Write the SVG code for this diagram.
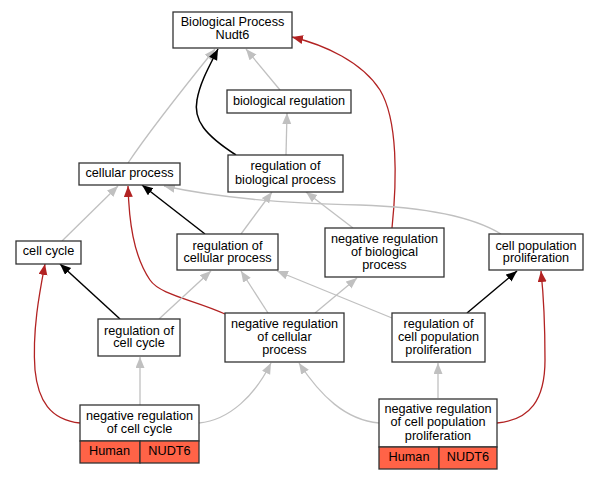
<svg xmlns="http://www.w3.org/2000/svg" width="599" height="480" viewBox="0 0 599 480">
<style>
.n rect{fill:#fff;stroke:#333;stroke-width:1.3}
.n rect.h{fill:#ff6347}
text{font-family:"Liberation Sans",Arial,sans-serif;font-size:12.7px;fill:#000;text-anchor:middle}
.e path{fill:none}
.g{stroke:#c0c0c0;stroke-width:1.3}
.k{stroke:#000;stroke-width:1.5}
.r{stroke:#b22222;stroke-width:1.3}
</style>
<defs>
<marker id="ag" markerUnits="userSpaceOnUse" markerWidth="12" markerHeight="10" refX="11" refY="4.5" orient="auto"><path d="M0,0 L11,4.5 L0,9 z" fill="#c0c0c0"/></marker>
<marker id="ak" markerUnits="userSpaceOnUse" markerWidth="12" markerHeight="10" refX="11" refY="4.5" orient="auto"><path d="M0,0 L11,4.5 L0,9 z" fill="#000"/></marker>
<marker id="ar" markerUnits="userSpaceOnUse" markerWidth="12" markerHeight="10" refX="11" refY="4.5" orient="auto"><path d="M0,0 L11,4.5 L0,9 z" fill="#b22222"/></marker>
</defs>
<g id="edges" class="e">
<path class="g" d="M128,163 C150,130 190,80 215,49" marker-end="url(#ag)"/>
<path class="k" d="M236,155 C205,135 193,120 197,100 C200,82 210,65 218,49" marker-end="url(#ak)"/>
<path class="g" d="M280,90 L246,49" marker-end="url(#ag)"/>
<path class="r" d="M392,228 C397,180 398,120 380,90 C362,62 325,45 292,37" marker-end="url(#ar)"/>
<path class="g" d="M286,155 L287,113" marker-end="url(#ag)"/>
<path class="g" d="M62,241 L118,186" marker-end="url(#ag)"/>
<path class="k" d="M205,234 L142,185" marker-end="url(#ak)"/>
<path class="r" d="M225,314 C195,300 160,295 150,280 C133,255 129,220 128,186" marker-end="url(#ar)"/>
<path class="g" d="M501,234 C470,215 420,207 360,205 C280,203 220,198 164,186" marker-end="url(#ag)"/>
<path class="g" d="M241,234 L272,192" marker-end="url(#ag)"/>
<path class="g" d="M353,228 L306,192" marker-end="url(#ag)"/>
<path class="g" d="M315,313 L357,278" marker-end="url(#ag)"/>
<path class="k" d="M120,319 L60,264" marker-end="url(#ak)"/>
<path class="r" d="M80,423 C50,420 38,400 35,370 C32,330 40,290 45,264" marker-end="url(#ar)"/>
<path class="g" d="M159,319 L211,271" marker-end="url(#ag)"/>
<path class="g" d="M268,313 L241,271" marker-end="url(#ag)"/>
<path class="g" d="M392,318 L277,271" marker-end="url(#ag)"/>
<path class="k" d="M467,313 L517,271" marker-end="url(#ak)"/>
<path class="g" d="M140,405 L140,357" marker-end="url(#ag)"/>
<path class="g" d="M199,423 C230,420 255,395 271,363" marker-end="url(#ag)"/>
<path class="g" d="M379,423 C345,420 320,395 299,363" marker-end="url(#ag)"/>
<path class="g" d="M438,398 L438,363" marker-end="url(#ag)"/>
<path class="r" d="M497,423 C530,420 545,400 545,360 C545,320 543,290 541,271" marker-end="url(#ar)"/>
</g>
<g id="bp" class="n"><rect x="173" y="12" width="119" height="36"/><text x="232.5" y="26.2">Biological Process</text><text x="232.5" y="39">Nudt6</text></g>
<g id="bioreg" class="n"><rect x="227" y="90" width="124" height="23"/><text x="289" y="104.5">biological regulation</text></g>
<g id="regbio" class="n"><rect x="228" y="155" width="115" height="37"/><text x="285.5" y="170.2">regulation of</text><text x="285.5" y="183.5">biological process</text></g>
<g id="cellproc" class="n"><rect x="79" y="163" width="101" height="22"/><text x="129.5" y="177">cellular process</text></g>
<g id="cellcycle" class="n"><rect x="16" y="241" width="65" height="23"/><text x="48.5" y="255">cell cycle</text></g>
<g id="regcell" class="n"><rect x="177" y="234" width="101" height="36"/><text x="227.5" y="249.5">regulation of</text><text x="227.5" y="262.2">cellular process</text></g>
<g id="negregbio" class="n"><rect x="325" y="228" width="119" height="49"/><text x="384.5" y="243">negative regulation</text><text x="384.5" y="256">of biological</text><text x="384.5" y="269">process</text></g>
<g id="cellpop" class="n"><rect x="489" y="234" width="94" height="36"/><text x="536" y="249.5">cell population</text><text x="536" y="262.2">proliferation</text></g>
<g id="regcc" class="n"><rect x="98" y="319" width="82" height="37"/><text x="139" y="334.5">regulation of</text><text x="139" y="347.2">cell cycle</text></g>
<g id="negregcell" class="n"><rect x="225" y="313" width="119" height="49"/><text x="284.5" y="327.8">negative regulation</text><text x="284.5" y="341.1">of cellular</text><text x="284.5" y="354.4">process</text></g>
<g id="regcellpop" class="n"><rect x="392" y="313" width="93" height="49"/><text x="438.5" y="327.8">regulation of</text><text x="438.5" y="341.1">cell population</text><text x="438.5" y="354.4">proliferation</text></g>
<g id="negregcc" class="n"><rect x="80" y="405" width="119" height="36"/><rect class="h" x="80" y="441" width="60" height="22"/><rect class="h" x="140" y="441" width="59" height="22"/><text x="139.5" y="419.5">negative regulation</text><text x="139.5" y="432.8">of cell cycle</text><text x="109.5" y="455">Human</text><text x="169.5" y="455">NUDT6</text></g>
<g id="negregcellpop" class="n"><rect x="379" y="399" width="118" height="48"/><rect class="h" x="379" y="447" width="60" height="22"/><rect class="h" x="439" y="447" width="58" height="22"/><text x="438" y="413">negative regulation</text><text x="438" y="426.4">of cell population</text><text x="438" y="439.8">proliferation</text><text x="409" y="461">Human</text><text x="468" y="461">NUDT6</text></g>
</svg>
